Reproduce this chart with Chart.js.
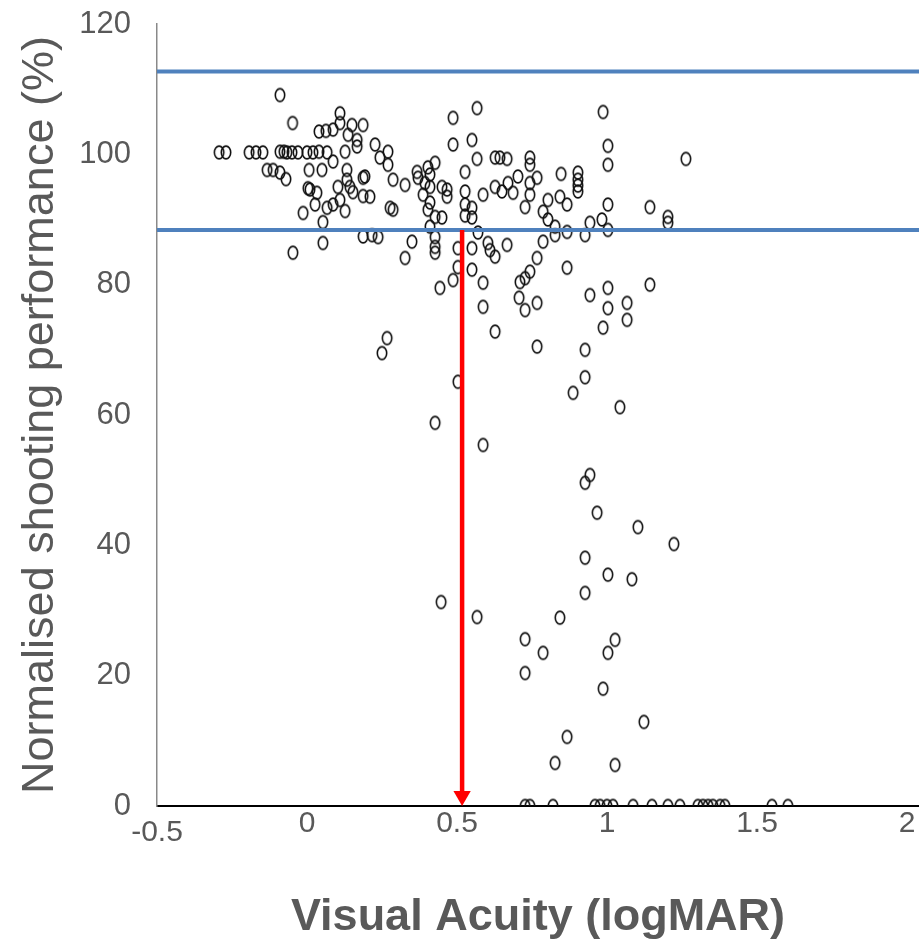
<!DOCTYPE html>
<html>
<head>
<meta charset="utf-8">
<script src="https://cdn.jsdelivr.net/npm/chart.js@4"></script>
<style>
  html, body { margin: 0; padding: 0; background: #fff; }
</style>
</head>
<body>
<canvas id="myChart" width="919" height="942"></canvas>
<script>
// visual acuity (logMAR) of each shooter
var acuity = [
  // row near 100 %
  -0.293, -0.27, -0.193, -0.17, -0.147, -0.09, -0.077, -0.067, -0.05, -0.03, 0, 0.02, 0.04, 0.067, 0.127,
  -0.09, -0.048, 0.11, 0.04, 0.063, 0.087, 0.11, 0.137, 0.167, 0.15, 0.187, 0.167,
  -0.133, -0.113, -0.09, -0.07, 0.007, 0.05, 0.087, 0.133,
  0.003, 0.01, 0.033, 0.103, 0.133, 0.143, 0.153, 0.187, 0.187,
  -0.013, 0.027, 0.067, 0.087, 0.11, 0.127, 0.053, 0.053, 0.187, -0.047,
  0.487, 0.567, 0.487, 0.55, 0.567, 0.627, 0.643, 0.667, 0.743, 0.743,
  0.227, 0.243, 0.27, 0.27, 0.193, 0.287, 0.327, 0.367, 0.37, 0.403, 0.427, 0.41, 0.393, 0.41, 0.45, 0.467, 0.467, 0.387, 0.41, 0.403, 0.427, 0.45,
  0.527, 0.527, 0.527, 0.527, 0.55, 0.55, 0.587, 0.627, 0.65, 0.67, 0.687, 0.703, 0.743, 0.743, 0.727,
  0.21, 0.277, 0.287, 0.217, 0.237, 0.35, 0.327, 0.41, 0.427, 0.427, 0.427, 0.503, 0.55, 0.57, 0.603, 0.61, 0.667, 0.627,
  0.987, 1.003, 1.003, 1.263, 0.847, 0.903, 0.903, 0.903, 0.903, 0.767, 0.803, 0.787, 0.803, 0.843, 0.867, 1.003, 1.143, 1.203, 1.203, 0.983, 0.943, 1.003, 0.827, 0.827, 0.867, 0.927, 0.787, 0.767,
  // 60 - 85 %
  0.443, 0.267, 0.25, 0.487, 0.503, 0.55, 0.587, 0.587, 0.627, 0.71, 0.727, 0.743, 0.867, 0.707, 0.727, 0.767, 0.767, 0.943, 1.003, 1.003, 1.067, 1.067, 1.143, 0.987, 0.927, 0.927, 0.887, 1.043, 0.503,
  // below 60 %
  0.427, 0.587, 0.943, 0.927, 0.967, 0.927, 1.003, 0.927, 0.843, 0.727, 0.787, 0.727, 1.027, 1.003, 0.987, 0.867, 0.827, 1.027, 0.447, 0.567, 1.103, 1.223, 1.083, 1.123,
  // zero scores
  0.727, 0.743, 0.82, 0.96, 0.977, 1.0, 1.02, 1.087, 1.15, 1.203, 1.243, 1.303, 1.32, 1.337, 1.353, 1.377, 1.393, 1.55, 1.603
];

// normalised shooting performance (%) for the same shooters
var performance = [
  100.3, 100.3, 100.3, 100.3, 100.3, 100.4, 100.4, 100.3, 100.3, 100.3, 100.3, 100.3, 100.4, 100.3, 100.4,
  109.1, 104.8, 106.3, 103.5, 103.6, 103.8, 104.8, 103, 102.2, 104.5, 104.5, 101.2,
  97.6, 97.6, 97.2, 96.2, 97.6, 97.6, 98.9, 97.6,
  94.8, 94.6, 94.1, 95, 96.1, 95, 94.2, 96.4, 93.6,
  91, 92.3, 91.8, 92.3, 93, 91.3, 89.6, 86.4, 87.4, 84.9,
  105.6, 107.1, 101.5, 102.2, 99.3, 99.5, 99.5, 99.3, 99.5, 98.4,
  101.5, 99.5, 100.4, 98.4, 96.6, 96.1, 95.3, 97.3, 96.4, 98, 98.7, 96.9, 95.6, 95, 95, 94.6, 93.5, 93.8, 92.6, 91.5, 90.4, 90.3,
  97.3, 94.3, 92.3, 90.6, 91.8, 90.3, 93.8, 95, 94.3, 95.6, 94.1, 96.6, 95.6, 93.8, 91.9,
  93.5, 91.8, 91.5, 87.6, 87.3, 86.6, 84.1, 88.9, 87.3, 85.8, 84.9, 85.6, 85.6, 88, 86.4, 85.3, 86.1, 84.3,
  106.5, 101.3, 98.4, 99.3, 97, 97.2, 96.1, 95.2, 94.3, 96.4, 93, 91.2, 90, 93.5, 92.3, 92.3, 91.9, 90.4, 89.5, 90, 89.5, 88.4, 88.9, 87.6, 88.1, 87.6, 86.6, 84.1,
  79.5, 71.8, 69.5, 80.7, 82.7, 82.3, 80.3, 76.6, 72.8, 80.4, 81, 82, 82.6, 78, 76.1, 77.2, 70.5, 78.4, 79.5, 76.4, 77.2, 74.6, 80, 73.4, 70, 65.8, 63.4, 61.2, 65.1,
  58.8, 55.4, 50.8, 49.6, 45, 38.1, 35.5, 32.7, 28.9, 25.6, 23.5, 20.4, 25.5, 23.5, 18, 10.6, 6.6, 6.3, 31.3, 29, 42.8, 40.2, 34.8, 12.9,
  0, 0, 0, 0, 0, 0, 0, 0, 0, 0, 0, 0, 0, 0, 0, 0, 0, 0, 0
];

// the two blue reference lines (%) and the red cut-off arrow
var bandLimits = [112.7, 88.4];
var cutoffAcuity = 0.517;

var xTicks = [-0.5, 0, 0.5, 1, 1.5, 2];

// open oval marker like the spreadsheet one
function makeRing() {
  var c = document.createElement('canvas');
  c.width = 14;
  c.height = 17;
  var g = c.getContext('2d');
  g.strokeStyle = '#111';
  g.lineWidth = 1.6;
  g.beginPath();
  g.ellipse(7, 8.5, 4.7, 6.4, 0, 0, Math.PI * 2);
  g.stroke();
  return c;
}

var points = acuity.map(function (a, i) {
  return { x: a, y: performance[i] };
});

var fontFamily = '"Liberation Sans", Arial, sans-serif';
Chart.defaults.font.family = fontFamily;

var datasets = [
  {
    // red arrow, head drawn as a rotated triangle at the axis
    data: [{ x: cutoffAcuity, y: bandLimits[1] }, { x: cutoffAcuity, y: 1.53 }],
    showLine: true,
    borderColor: '#ff0000',
    borderWidth: 4.5,
    pointRadius: [0, 10],
    pointStyle: 'triangle',
    rotation: 180,
    pointBackgroundColor: '#ff0000',
    pointBorderColor: '#ff0000',
    pointBorderWidth: 0,
    clip: false
  }
];

bandLimits.forEach(function (lim) {
  datasets.push({
    data: [{ x: -0.5, y: lim }, { x: 2.04, y: lim }],
    showLine: true,
    borderColor: '#4f81bd',
    borderWidth: 4,
    pointRadius: 0
  });
});

datasets.push({
  data: points,
  pointStyle: makeRing(),
  pointRadius: 6,
  clip: 0
});

// the first x label (-0.5) sits a bit lower in the original, so draw it here
var lowFirstLabel = {
  id: 'lowFirstLabel',
  afterDraw: function (chart) {
    var sx = chart.scales.x;
    var c = chart.ctx;
    c.save();
    c.fillStyle = '#595959';
    c.font = '30px ' + fontFamily;
    c.textAlign = 'center';
    c.textBaseline = 'middle';
    c.fillText(String(xTicks[0]), sx.getPixelForValue(xTicks[0]), sx.top + 27);
    c.restore();
  }
};

var ctx = document.getElementById('myChart');
var myChart = new Chart(ctx, {
  type: 'scatter',
  data: { datasets: datasets },
  plugins: [lowFirstLabel],
  options: {
    responsive: false,
    animation: false,
    events: [],
    layout: {
      autoPadding: false,
      padding: { top: 24, right: 0, bottom: 0, left: 0 }
    },
    plugins: {
      legend: { display: false },
      tooltip: { enabled: false }
    },
    scales: {
      x: {
        type: 'linear',
        min: -0.5,
        max: 2.04,
        afterBuildTicks: function (scale) {
          scale.ticks = xTicks.map(function (v) { return { value: v }; });
        },
        afterFit: function (scale) {
          scale.height = 136;
          scale.paddingLeft = 0;
          scale.paddingRight = 0;
        },
        grid: { display: false, drawTicks: false },
        border: { display: true, color: '#000', width: 2 },
        ticks: {
          color: '#595959',
          font: { size: 30 },
          padding: 0,
          maxRotation: 0,
          autoSkip: false,
          callback: function (v) {
            return v === xTicks[0] ? '' : String(Math.round(v * 10) / 10);
          }
        },
        title: {
          display: true,
          text: 'Visual Acuity (logMAR)',
          color: '#595959',
          font: { size: 45, weight: 'bold', lineHeight: 1 },
          padding: { top: 0, bottom: 2 }
        }
      },
      y: {
        min: 0,
        max: 120,
        afterFit: function (scale) {
          scale.width = 157;
          scale.paddingTop = 0;
          scale.paddingBottom = 0;
        },
        grid: { display: false, drawTicks: false },
        border: { display: true, color: '#898989', width: 1.5 },
        ticks: {
          stepSize: 20,
          color: '#595959',
          font: { size: 31 },
          padding: 26
        },
        title: {
          display: true,
          text: 'Normalised shooting performance (%)',
          color: '#595959',
          font: { size: 45, lineHeight: 1 },
          padding: { top: 18, bottom: 0 }
        }
      }
    }
  }
});
</script>
</body>
</html>
